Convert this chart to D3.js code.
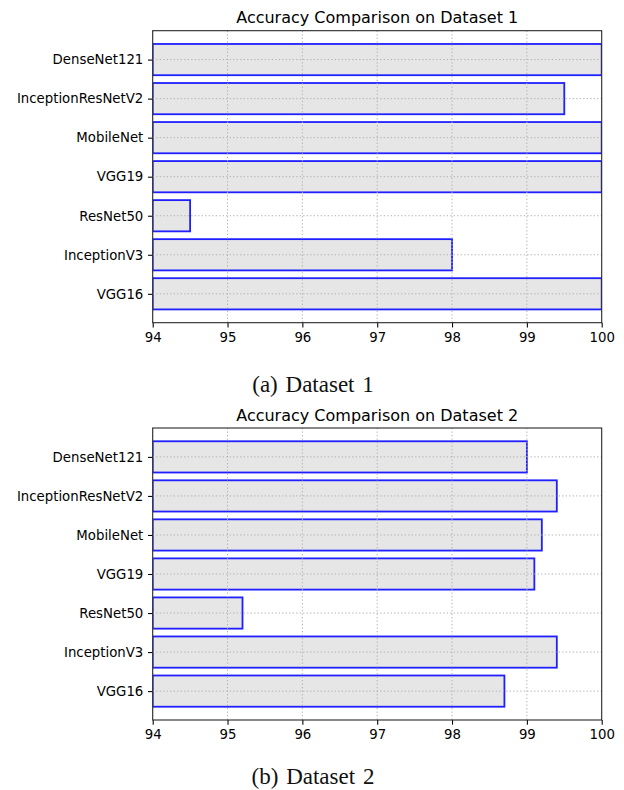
<!DOCTYPE html>
<html>
<head>
<meta charset="utf-8">
<script src="https://cdn.jsdelivr.net/npm/d3@7"></script>
<style>
  body { margin: 0; background: #fff; }
  svg { display: block; }
  .tick text { font-family: "DejaVu Sans", sans-serif; font-size: 13.3px; fill: #000; }
</style>
</head>
<body>
<div id="chart"></div>
<script>
// models listed bottom to top, as matplotlib barh draws them
const models = ['VGG16', 'InceptionV3', 'ResNet50', 'VGG19', 'MobileNet', 'InceptionResNetV2', 'DenseNet121'];
const accDataset1 = [100, 98.0, 94.5, 100, 100, 99.5, 100];
const accDataset2 = [98.7, 99.4, 95.2, 99.1, 99.2, 99.4, 99.0];
const xTicks = [94, 95, 96, 97, 98, 99, 100];
const titles = ['Accuracy Comparison on Dataset 1', 'Accuracy Comparison on Dataset 2'];
const captions = ['(a) Dataset 1', '(b) Dataset 2'];

const W = 624, H = 790;
const svg = d3.select('#chart').append('svg')
  .attr('width', W)
  .attr('height', H);

const plotW = 449, plotH = 292;
const panels = [
  { left: 152.7, top: 30.7, values: accDataset1, title: titles[0], caption: captions[0], capY: 392 },
  { left: 152.7, top: 428, values: accDataset2, title: titles[1], caption: captions[1], capY: 784 }
];

panels.forEach((p, pi) => {
  const g = svg.append('g').attr('transform', `translate(${p.left},${p.top})`);

  const x = d3.scaleLinear().domain([94, 100]).range([0, plotW]);
  // same margins as matplotlib: bars span -0.4..6.4, plus 5% padding
  const y = d3.scaleLinear().domain([-0.74, 6.74]).range([plotH, 0]);
  const barH = y(0) - y(0.8);

  const clipId = 'clip' + pi;
  g.append('clipPath').attr('id', clipId)
    .append('rect').attr('width', plotW).attr('height', plotH);

  const rows = models.map((m, i) => ({ name: m, idx: i, value: p.values[i] }));

  // Bars
  g.append('g').attr('clip-path', `url(#${clipId})`)
    .selectAll('rect')
    .data(rows)
    .enter()
    .append('rect')
    .attr('x', x(94))
    .attr('y', d => y(d.idx + 0.4))
    .attr('width', d => x(d.value) - x(94))
    .attr('height', barH)
    .attr('fill', '#e6e6e6')
    .attr('stroke', '#1f1fff')
    .attr('stroke-width', 1.8);

  // Grid (drawn over the bars, like matplotlib)
  const grid = g.append('g').attr('clip-path', `url(#${clipId})`);
  grid.selectAll('.vg')
    .data(xTicks)
    .enter()
    .append('line')
    .attr('x1', d => x(d)).attr('x2', d => x(d))
    .attr('y1', 0).attr('y2', plotH)
    .attr('stroke', '#b0b0b0')
    .attr('stroke-width', 1)
    .attr('stroke-dasharray', '1.3,2.2');
  grid.selectAll('.hg')
    .data(rows)
    .enter()
    .append('line')
    .attr('x1', 0).attr('x2', plotW)
    .attr('y1', d => y(d.idx)).attr('y2', d => y(d.idx))
    .attr('stroke', '#b0b0b0')
    .attr('stroke-width', 1)
    .attr('stroke-dasharray', '1.3,2.2');

  // Axes
  const xAxis = g.append('g')
    .attr('transform', `translate(0,${plotH})`)
    .call(d3.axisBottom(x).tickValues(xTicks).tickFormat(d3.format('d')).tickSize(4.7).tickPadding(4.7));
  const yAxis = g.append('g')
    .call(d3.axisLeft(d3.scaleOrdinal().domain(models).range(models.map((m, i) => y(i))))
      .tickSize(4.7).tickPadding(4.7));
  [xAxis, yAxis].forEach(a => {
    a.select('.domain').remove();
    a.selectAll('.tick line').attr('stroke', '#000').attr('stroke-width', 1.07);
  });

  // Frame
  g.append('rect')
    .attr('width', plotW).attr('height', plotH)
    .attr('fill', 'none')
    .attr('stroke', '#222')
    .attr('stroke-width', 1.07);

  // Title
  g.append('text')
    .attr('x', plotW / 2)
    .attr('y', -7.5)
    .attr('text-anchor', 'middle')
    .style('font-family', '"DejaVu Sans", sans-serif')
    .style('font-size', '16px')
    .style('fill', '#000')
    .text(p.title);

  // Subfigure caption
  svg.append('text')
    .attr('x', 313)
    .attr('y', p.capY)
    .attr('text-anchor', 'middle')
    .style('font-family', '"Liberation Serif", "Times New Roman", serif')
    .style('font-size', '23px')
    .style('word-spacing', '2px')
    .style('fill', '#111')
    .text(p.caption);
});
</script>
</body>
</html>
